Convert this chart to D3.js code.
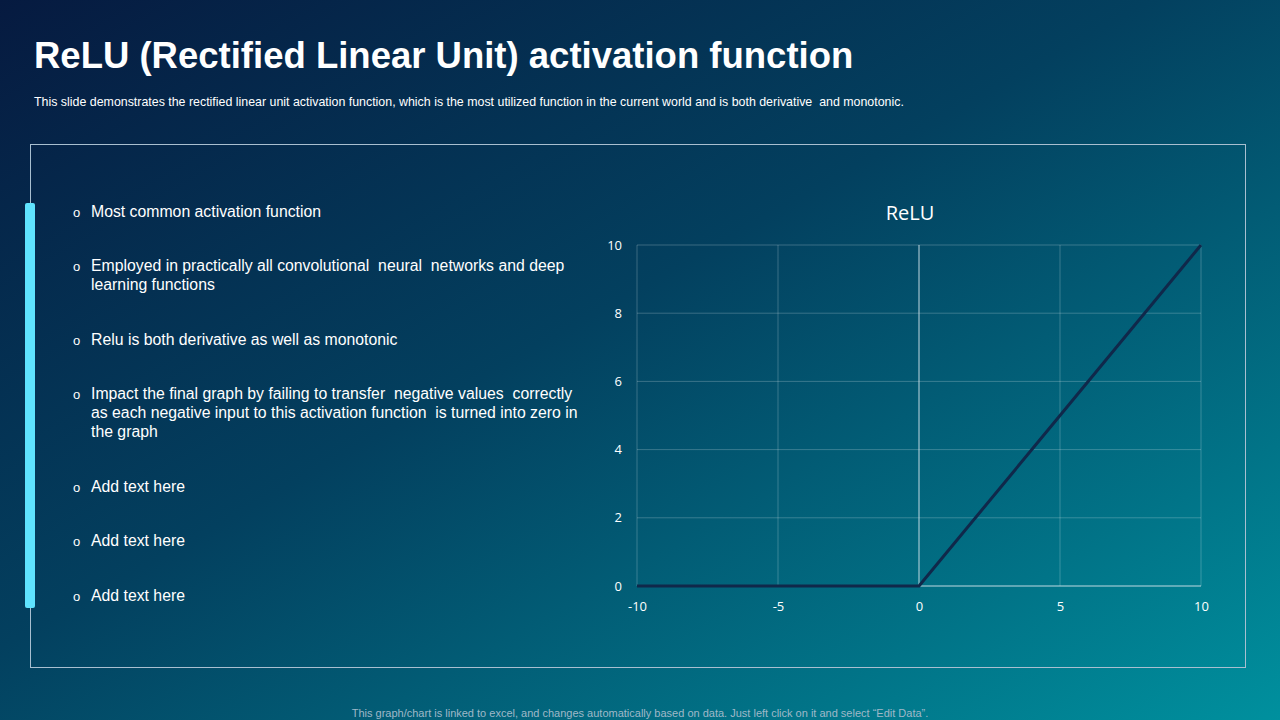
<!DOCTYPE html>
<html><head><meta charset="utf-8">
<script src="https://cdn.jsdelivr.net/npm/d3@7"></script>
<style>body{margin:0;overflow:hidden}svg{display:block}</style>
</head><body>
<svg id="c" width="1280" height="720"></svg>
<script>
const xValues = [-10, -5, 0, 5, 10];
const yValues = [0, 0, 0, 5, 10];
const xTicks = [-10, -5, 0, 5, 10];
const yTicks = [0, 2, 4, 6, 8, 10];
const bullets = [
  ["Most common activation function"],
  ["Employed in practically all convolutional  neural  networks and deep", "learning functions"],
  ["Relu is both derivative as well as monotonic"],
  ["Impact the final graph by failing to transfer  negative values  correctly", "as each negative input to this activation function  is turned into zero in", "the graph"],
  ["Add text here"],
  ["Add text here"],
  ["Add text here"]
];
const bulletY = [212, 266, 340, 394, 487, 541, 596];

const svg = d3.select("#c");
const defs = svg.append("defs");
const g = defs.append("linearGradient").attr("id","bg").attr("x1","0").attr("y1","0").attr("x2","1").attr("y2","1");
g.append("stop").attr("offset","0").attr("stop-color","#061a40");
g.append("stop").attr("offset","0.45").attr("stop-color","#03405f");
g.append("stop").attr("offset","1").attr("stop-color","#00909e");
svg.append("rect").attr("width",1280).attr("height",720).attr("fill","url(#bg)");

svg.append("text").attr("x",34).attr("y",68).attr("fill","#fff")
  .attr("font-family","Arial, Liberation Sans, sans-serif").attr("font-weight","bold").attr("font-size",36.5)
  .text("ReLU (Rectified Linear Unit) activation function");
svg.append("text").attr("x",34).attr("y",106).attr("fill","#fff")
  .attr("font-family","Arial, Liberation Sans, sans-serif").attr("font-size",12.4).attr("xml:space","preserve")
  .text("This slide demonstrates the rectified linear unit activation function, which is the most utilized function in the current world and is both derivative  and monotonic.");

svg.append("rect").attr("x",30.5).attr("y",144.5).attr("width",1215).attr("height",523)
  .attr("fill","none").attr("stroke","#a9bfd0").attr("stroke-width",1);
svg.append("rect").attr("x",25).attr("y",203).attr("width",10).attr("height",405).attr("rx",2).attr("fill","#5fe3ff");

const bt = svg.append("g").attr("font-family","Arial, Liberation Sans, sans-serif").attr("font-size",15.8).attr("fill","#fff");
bullets.forEach((lines,i)=>{
  bt.append("text").attr("x",73).attr("y",bulletY[i]+5).attr("font-size",13).text("o");
  lines.forEach((l,j)=>bt.append("text").attr("x",91).attr("y",bulletY[i]+5+j*19).attr("xml:space","preserve").text(l));
});

const x = d3.scaleLinear().domain([-10,10]).range([637,1201]);
const y = d3.scaleLinear().domain([0,10]).range([586,245]);
const grid = svg.append("g").attr("stroke","#ffffff").attr("stroke-opacity",0.22);
yTicks.forEach(t=>grid.append("line").attr("x1",x(-10)).attr("x2",x(10)).attr("y1",y(t)).attr("y2",y(t)));
xTicks.forEach(t=>grid.append("line").attr("y1",y(0)).attr("y2",y(10)).attr("x1",x(t)).attr("x2",x(t)));
svg.append("line").attr("x1",x(0)).attr("x2",x(0)).attr("y1",y(0)).attr("y2",y(10)).attr("stroke","#c8dde6").attr("stroke-opacity",0.8);
svg.append("line").attr("x1",x(-10)).attr("x2",x(10)).attr("y1",y(0)).attr("y2",y(0)).attr("stroke","#c8dde6").attr("stroke-opacity",0.8);

const ax = svg.append("g").attr("transform",`translate(0,${y(0)+16})`)
  .call(d3.axisBottom(x).tickValues(xTicks).tickFormat(d=>String(d)).tickSize(0).tickPadding(0));
ax.select(".domain").remove();
ax.selectAll("text").attr("fill","#fff").attr("font-size",13).attr("font-family","Open Sans, sans-serif");
const ay = svg.append("g").attr("transform",`translate(${x(-10)-15},0)`)
  .call(d3.axisLeft(y).tickValues(yTicks).tickFormat(d=>String(d)).tickSize(0).tickPadding(0));
ay.select(".domain").remove();
ay.selectAll("text").attr("fill","#fff").attr("font-size",13).attr("font-family","Open Sans, sans-serif");

svg.append("path").datum(xValues.map((v,i)=>[v,yValues[i]]))
  .attr("d",d3.line().x(d=>x(d[0])).y(d=>y(d[1])))
  .attr("fill","none").attr("stroke","#10284a").attr("stroke-width",3);

svg.append("text").attr("x",910).attr("y",220).attr("text-anchor","middle").attr("fill","#fff")
  .attr("font-family","Open Sans, sans-serif").attr("font-size",20).text("ReLU");

svg.append("text").attr("x",640).attr("y",717).attr("text-anchor","middle").attr("fill","#9fb8c8")
  .attr("font-family","Arial, Liberation Sans, sans-serif").attr("font-size",11)
  .text("This graph/chart is linked to excel, and changes automatically based on data. Just left click on it and select “Edit Data”.");
</script>
</body></html>
